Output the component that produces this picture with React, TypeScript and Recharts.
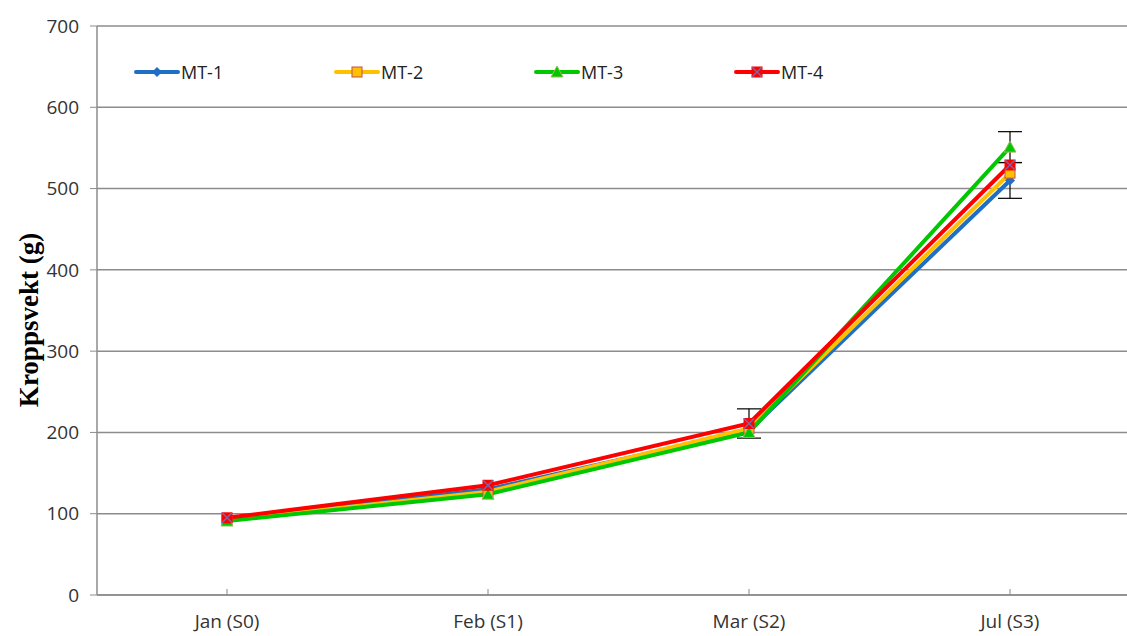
import React from "react";
import {
  LineChart,
  Line,
  XAxis,
  YAxis,
  CartesianGrid,
  ErrorBar,
} from "recharts";

// Sampling months
const months = ["Jan (S0)", "Feb (S1)", "Mar (S2)", "Jul (S3)"];

// Body weight (g) per group
const mt1 = [93, 130, 202, 510];
const mt2 = [92, 127, 205, 519];
const mt3 = [91, 124, 200, 551];
const mt4 = [95, 135, 211, 529];

// Standard deviation per group
const mt1Err = [0, 0, 0, 22];
const mt2Err = [0, 0, 0, 0];
const mt3Err = [0, 0, 0, 19];
const mt4Err = [0, 0, 18, 0];

const yTicks = [0, 100, 200, 300, 400, 500, 600, 700];

const data = months.map((m, i) => ({
  month: m,
  mt1: mt1[i],
  mt2: mt2[i],
  mt3: mt3[i],
  mt4: mt4[i],
  mt1Err: mt1Err[i],
  mt2Err: mt2Err[i],
  mt3Err: mt3Err[i],
  mt4Err: mt4Err[i],
}));

const colors = {
  mt1: "#1f6fc4",
  mt2: "#ffc000",
  mt3: "#00c800",
  mt4: "#ff0000",
};

const tickFont = "'Open Sans', 'Noto Sans', sans-serif";

// Marker shapes
const Diamond = ({ cx, cy }: any) => (
  <path d={`M${cx},${cy - 5}L${cx + 5},${cy}L${cx},${cy + 5}L${cx - 5},${cy}Z`} fill={colors.mt1} />
);
const SquareMark = ({ cx, cy }: any) => (
  <rect x={cx - 5} y={cy - 5} width={10} height={10} fill={colors.mt2} stroke="#c0504d" strokeWidth={1} />
);
const Triangle = ({ cx, cy }: any) => (
  <path d={`M${cx},${cy - 6}L${cx + 6},${cy + 5}L${cx - 6},${cy + 5}Z`} fill={colors.mt3} stroke="#9bbb59" strokeWidth={1} />
);
const CrossSquare = ({ cx, cy }: any) => (
  <g>
    <rect x={cx - 5.5} y={cy - 5.5} width={11} height={11} fill={colors.mt4} />
    <path d={`M${cx - 5},${cy - 5}L${cx + 5},${cy + 5}M${cx + 5},${cy - 5}L${cx - 5},${cy + 5}`} stroke="#8064a2" strokeWidth={1.5} />
  </g>
);

const series = [
  { key: "mt1", name: "MT-1", Marker: Diamond },
  { key: "mt2", name: "MT-2", Marker: SquareMark },
  { key: "mt3", name: "MT-3", Marker: Triangle },
  { key: "mt4", name: "MT-4", Marker: CrossSquare },
];

const LegendBox = () => (
  <div style={{ position: "absolute", left: 134, top: 60, width: 900, height: 24 }}>
    {series.map((s, i) => (
      <div
        key={s.key}
        style={{ position: "absolute", left: i * 200, top: 0, display: "flex", alignItems: "center" }}
      >
        <svg width={46} height={24}>
          <line x1={2} y1={12} x2={44} y2={12} stroke={(colors as any)[s.key]} strokeWidth={4} strokeLinecap="round" />
          <s.Marker cx={23} cy={12} />
        </svg>
        <span style={{ fontFamily: tickFont, fontSize: 18, color: "#222", marginLeft: 1 }}>{s.name}</span>
      </div>
    ))}
  </div>
);

const XTick = ({ x, payload }: any) => (
  <g>
    <line x1={x} y1={595 - 6} x2={x} y2={595} stroke="#888" strokeWidth={1} />
    <text x={x} y={628} textAnchor="middle" fontFamily={tickFont} fontSize={19} fill="#333">
      {payload.value}
    </text>
  </g>
);

const YLabel = () => (
  <text
    transform="translate(38,320) rotate(-90)"
    textAnchor="middle"
    fontFamily="'Liberation Serif', serif"
    fontWeight="bold"
    fontSize={27}
    fill="#000"
  >
    Kroppsvekt (g)
  </text>
);

const App = () => {
  return (
    <div style={{ position: "fixed", left: 0, top: 0, width: 1127, height: 636, overflow: "hidden", background: "#fff" }}>
      <LineChart width={1140} height={636} data={data} margin={{ top: 26, right: 0, bottom: 0, left: 0 }}>
        <CartesianGrid vertical={false} stroke="#8c8c8c" strokeWidth={1.5} />
        <XAxis
          dataKey="month"
          padding={{ left: 130, right: 130 }}
          height={41}
          tickLine={false}
          tick={<XTick />}
          axisLine={{ stroke: "#8c8c8c", strokeWidth: 1.5 }}
        />
        <YAxis
          domain={[0, 700]}
          ticks={yTicks}
          width={97}
          tickSize={7}
          tickLine={{ stroke: "#8c8c8c" }}
          axisLine={{ stroke: "#8c8c8c", strokeWidth: 1.5 }}
          tick={{ fontFamily: tickFont, fontSize: 19, fill: "#333" }}
          tickMargin={11}
          label={() => <YLabel />}
        />
        {series.map((s) => (
          <Line
            key={s.key}
            dataKey={s.key}
            name={s.name}
            stroke={(colors as any)[s.key]}
            strokeWidth={4}
            dot={(p: any) => <s.Marker key={`${s.key}-${p.index}`} cx={p.cx} cy={p.cy} />}
            activeDot={false}
            isAnimationActive={false}
          >
            <ErrorBar dataKey={`${s.key}Err`} width={12} stroke="#000" strokeWidth={1.2} />
          </Line>
        ))}
      </LineChart>
      <LegendBox />
    </div>
  );
};

export default App;
